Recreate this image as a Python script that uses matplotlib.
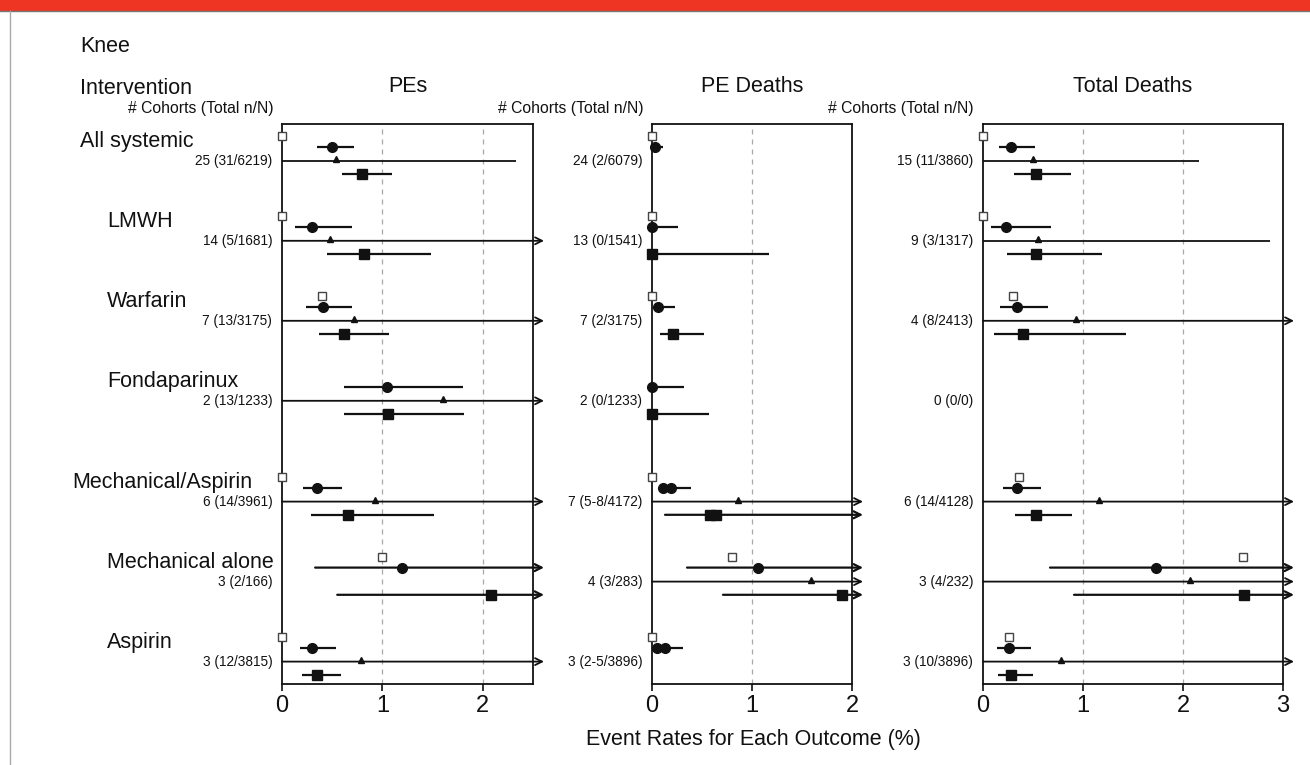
import numpy as np
import matplotlib
matplotlib.use("Agg")
import matplotlib.pyplot as plt
from matplotlib.patches import Rectangle
from matplotlib.lines import Line2D
from matplotlib.transforms import blended_transform_factory

plt.rcParams['font.family'] = ['Liberation Sans', 'DejaVu Sans']

inf = np.inf

groups = ["All systemic", "LMWH", "Warfarin", "Fondaparinux",
          "Mechanical/Aspirin", "Mechanical alone", "Aspirin"]

# PEs
pe_cohorts = ["25 (31/6219)", "14 (5/1681)", "7 (13/3175)", "2 (13/1233)",
              "6 (14/3961)", "3 (2/166)", "3 (12/3815)"]
pe_open = [0, 0, 0.40, None, 0, 1.00, 0]
pe_circ = [0.50, 0.30, 0.41, 1.05, 0.35, 1.20, 0.30]
pe_circ_lo = [0.35, 0.13, 0.24, 0.62, 0.21, 0.33, 0.18]
pe_circ_hi = [0.72, 0.70, 0.70, 1.80, 0.60, inf, 0.54]
pe_tri = [0.54, 0.48, 0.72, 1.60, 0.93, None, 0.79]
pe_tri_lo = [0, 0, 0, 0, 0, None, 0]
pe_tri_hi = [2.33, inf, inf, inf, inf, None, inf]
pe_sq = [0.80, 0.82, 0.62, 1.06, 0.66, 2.08, 0.35]
pe_sq_lo = [0.60, 0.45, 0.37, 0.62, 0.29, 0.55, 0.20]
pe_sq_hi = [1.10, 1.48, 1.07, 1.81, 1.51, inf, 0.59]

# PE Deaths
ped_cohorts = ["24 (2/6079)", "13 (0/1541)", "7 (2/3175)", "2 (0/1233)",
               "7 (5-8/4172)", "4 (3/283)", "3 (2-5/3896)"]
ped_open = [0, 0, 0, None, 0, 0.80, 0]
ped_circ = [[0.03], [0.0], [0.06], [0.0], [0.11, 0.19], [1.06], [0.05, 0.13]]
ped_circ_lo = [0.0, 0.0, 0.03, 0.0, 0.08, 0.35, 0.02]
ped_circ_hi = [0.11, 0.26, 0.23, 0.32, 0.39, inf, 0.31]
ped_tri = [None, None, None, None, 0.86, 1.59, None]
ped_tri_lo = [None, None, None, None, 0, 0, None]
ped_tri_hi = [None, None, None, None, inf, inf, None]
ped_sq = [None, [0.0], [0.21], [0.0], [0.58, 0.64], [1.90], None]
ped_sq_lo = [None, 0.0, 0.08, 0.0, 0.13, 0.71, None]
ped_sq_hi = [None, 1.17, 0.52, 0.57, inf, inf, None]

# Total Deaths
td_cohorts = ["15 (11/3860)", "9 (3/1317)", "4 (8/2413)", "0 (0/0)",
              "6 (14/4128)", "3 (4/232)", "3 (10/3896)"]
td_open = [0, 0, 0.30, None, 0.36, 2.60, 0.26]
td_circ = [0.28, 0.23, 0.34, None, 0.34, 1.73, 0.26]
td_circ_lo = [0.16, 0.08, 0.17, None, 0.20, 0.67, 0.14]
td_circ_hi = [0.52, 0.68, 0.65, None, 0.58, inf, 0.48]
td_tri = [0.50, 0.55, 0.93, None, 1.16, 2.07, 0.78]
td_tri_lo = [0, 0, 0, None, 0, 0, 0]
td_tri_hi = [2.16, 2.87, inf, None, inf, inf, inf]
td_sq = [0.53, 0.53, 0.40, None, 0.53, 2.61, 0.28]
td_sq_lo = [0.31, 0.24, 0.11, None, 0.32, 0.91, 0.15]
td_sq_hi = [0.88, 1.19, 1.43, None, 0.89, inf, 0.50]

W, H = 1310, 765
INK = '#111111'
BIG = 15.5


def fx(x):
    return x / W


def fy(y):
    return 1 - y / H


fig = plt.figure(figsize=(W / 100, H / 100), dpi=100)
fig.patch.set_facecolor('white')

# header band + frame lines
fig.patches.append(Rectangle((0, fy(10)), 1, 10 / H, transform=fig.transFigure,
                             color='#ee3524', zorder=0))
fig.lines.append(Line2D([0, 1], [fy(10.5), fy(10.5)], transform=fig.transFigure,
                        color='#777777', lw=1))
fig.lines.append(Line2D([fx(10), fx(10)], [fy(11), 0], transform=fig.transFigure,
                        color='#aaaaaa', lw=1))

group_y = np.array([0, 1, 2, 3, 4.26, 5.26, 6.26])
off_open, off_circ, off_sq = -0.31, -0.175, 0.165

panels = [
    dict(left=282, right=533, xmax=2.5, ticks=[0, 1, 2], title="PEs",
         cohorts=pe_cohorts, open=pe_open, circ=pe_circ, circ_lo=pe_circ_lo,
         circ_hi=pe_circ_hi, tri=pe_tri, tri_lo=pe_tri_lo, tri_hi=pe_tri_hi,
         sq=pe_sq, sq_lo=pe_sq_lo, sq_hi=pe_sq_hi),
    dict(left=652, right=852, xmax=2.0, ticks=[0, 1, 2], title="PE Deaths",
         cohorts=ped_cohorts, open=ped_open, circ=ped_circ, circ_lo=ped_circ_lo,
         circ_hi=ped_circ_hi, tri=ped_tri, tri_lo=ped_tri_lo, tri_hi=ped_tri_hi,
         sq=ped_sq, sq_lo=ped_sq_lo, sq_hi=ped_sq_hi),
    dict(left=983, right=1283, xmax=3.0, ticks=[0, 1, 2, 3], title="Total Deaths",
         cohorts=td_cohorts, open=td_open, circ=td_circ, circ_lo=td_circ_lo,
         circ_hi=td_circ_hi, tri=td_tri, tri_lo=td_tri_lo, tri_hi=td_tri_hi,
         sq=td_sq, sq_lo=td_sq_lo, sq_hi=td_sq_hi),
]

top, bottom = 124, 684
axes = []


def ci_line(ax, lo, hi, y, xmax, over, lw):
    if hi is None or lo is None:
        return
    if hi > xmax:
        ax.annotate('', xy=(xmax + over, y), xytext=(lo, y),
                    arrowprops=dict(arrowstyle='->,head_length=0.5,head_width=0.25',
                                    lw=lw, color=INK, shrinkA=0, shrinkB=0),
                    annotation_clip=False, zorder=3)
    else:
        ax.plot([lo, hi], [y, y], color=INK, lw=lw, clip_on=False, zorder=3,
                solid_capstyle='butt')


for p in panels:
    ax = fig.add_axes([fx(p['left']), fy(bottom), (p['right'] - p['left']) / W,
                       (bottom - top) / H])
    axes.append(ax)
    ax.set_xlim(0, p['xmax'])
    ax.set_ylim(6.54, -0.46)
    ax.set_yticks([])
    ax.set_xticks(p['ticks'])
    ax.set_xticklabels([str(t) for t in p['ticks']])
    ax.tick_params(axis='x', direction='out', length=5, width=1.2, labelsize=17,
                   pad=3, colors=INK)
    for s in ax.spines.values():
        s.set_linewidth(1.3)
        s.set_color(INK)
    for g in range(1, int(np.ceil(p['xmax']))):
        if g < p['xmax']:
            ax.axvline(g, color='#a8a8a8', lw=0.9, ls=(0, (4, 4)), zorder=1)

    px_per_unit = (p['right'] - p['left']) / p['xmax']
    over = 11 / px_per_unit

    for i, gy in enumerate(group_y):
        # open squares
        if p['open'][i] is not None:
            ax.plot(p['open'][i], gy + off_open, marker='s', ms=5.5, mfc='white',
                    mec='#444444', mew=1.0, clip_on=False, zorder=4)
        # circles
        if p['circ'][i] is not None:
            ci_line(ax, p['circ_lo'][i], p['circ_hi'][i], gy + off_circ,
                    p['xmax'], over, 1.6)
            for v in np.atleast_1d(p['circ'][i]):
                ax.plot(v, gy + off_circ, marker='o', ms=7, color=INK,
                        clip_on=False, zorder=4)
        # triangles
        if p['tri'][i] is not None:
            ci_line(ax, p['tri_lo'][i], p['tri_hi'][i], gy, p['xmax'], over, 1.3)
            ax.plot(p['tri'][i], gy - 0.025, marker='^', ms=4.5, color=INK,
                    clip_on=False, zorder=4)
        # filled squares
        if p['sq'][i] is not None:
            ci_line(ax, p['sq_lo'][i], p['sq_hi'][i], gy + off_sq,
                    p['xmax'], over, 1.6)
            for v in np.atleast_1d(p['sq'][i]):
                ax.plot(v, gy + off_sq, marker='s', ms=7.5, color=INK,
                        clip_on=False, zorder=4)
        # cohort labels
        ax.annotate(p['cohorts'][i], xy=(0, gy), xycoords=('axes fraction', 'data'),
                    xytext=(-7, 0), textcoords='offset points', ha='right',
                    va='center', fontsize=9.8, color=INK)

    fig.text(fx((p['left'] + p['right']) / 2), fy(87), p['title'], ha='center',
             va='center', fontsize=BIG, color=INK)
    fig.text(fx(p['left'] - 9), fy(108), "# Cohorts (Total n/N)", ha='right',
             va='center', fontsize=11.3, color=INK)

# intervention names
name_x = [80, 107, 107, 107, 72, 107, 107]
tr = blended_transform_factory(fig.transFigure, axes[0].transData)
for name, nx, gy in zip(groups, name_x, group_y):
    fig.text(fx(nx), gy - 0.24, name, transform=tr, ha='left', va='center',
             fontsize=BIG, color=INK)

fig.text(fx(80), fy(47), "Knee", ha='left', va='center', fontsize=BIG, color=INK)
fig.text(fx(80), fy(88), "Intervention", ha='left', va='center', fontsize=BIG,
         color=INK)
fig.text(fx(753), fy(740), "Event Rates for Each Outcome (%)", ha='center',
         va='center', fontsize=BIG, color=INK)

fig.savefig('out.png', dpi=100)
